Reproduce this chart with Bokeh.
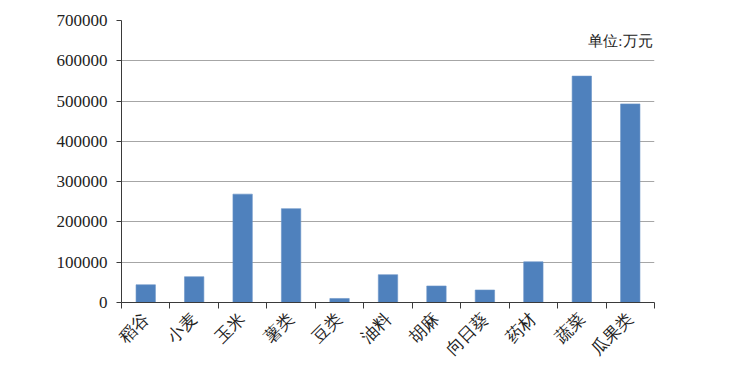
from math import pi
from bokeh.plotting import figure
from bokeh.models import ColumnDataSource, Range1d, FixedTicker, Label, BasicTickFormatter
from bokeh.embed import file_html
from bokeh.resources import INLINE

categories = ["稻谷", "小麦", "玉米", "薯类", "豆类", "油料", "胡麻", "向日葵", "药材", "蔬菜", "瓜果类"]
values = [44000, 64000, 269000, 233000, 10000, 69000, 41000, 31000, 101000, 562000, 493000]
y_ticks = [0, 100000, 200000, 300000, 400000, 500000, 600000, 700000]
unit_label = "单位:万元"

n = len(categories)
xs = [i + 0.5 for i in range(n)]
src = ColumnDataSource(dict(x=xs, top=values, cat=categories))

FONT = "Liberation Serif"

p = figure(width=747, height=372, output_backend="svg", toolbar_location=None,
           x_range=Range1d(0, n), y_range=Range1d(0, y_ticks[-1]),
           min_border_left=121, min_border_right=93, min_border_top=20, min_border_bottom=70)
p.outline_line_color = None
p.background_fill_color = "white"
p.border_fill_color = "white"

p.vbar(x="x", top="top", width=0.4, bottom=0, source=src,
       fill_color="#4F81BD", line_color="#6A93C8", line_width=0.6)

yax = p.yaxis[0]
yax.ticker = FixedTicker(ticks=y_ticks)
yax.formatter = BasicTickFormatter(use_scientific=False)
yax.axis_line_color = "#3a3a3a"
yax.major_tick_line_color = "#3a3a3a"
yax.major_tick_out = 5
yax.major_tick_in = 0
yax.minor_tick_line_color = None
yax.major_label_text_font = FONT
yax.major_label_text_font_size = "17px"
yax.major_label_text_font_style = "normal"
yax.major_label_text_color = "#222222"
yax.major_label_standoff = 9

xax = p.xaxis[0]
xax.ticker = FixedTicker(ticks=xs, minor_ticks=list(range(n + 1)))
xax.major_label_overrides = {x: c for x, c in zip(xs, categories)}
xax.major_tick_out = 0
xax.major_tick_in = 0
xax.minor_tick_out = 6
xax.minor_tick_in = 0
xax.minor_tick_line_color = "#3a3a3a"
xax.axis_line_color = "#3a3a3a"
xax.major_label_orientation = pi / 4
xax.major_label_text_font = FONT
xax.major_label_text_font_size = "17px"
xax.major_label_text_font_style = "normal"
xax.major_label_text_color = "#222222"
xax.major_label_standoff = 8

p.xgrid.grid_line_color = None
p.ygrid.ticker = FixedTicker(ticks=y_ticks)
p.ygrid.grid_line_color = "#A6A6A6"
p.ygrid.grid_line_width = 1.2

p.add_layout(Label(x=n, y=650000, text=unit_label, text_align="right", text_baseline="middle",
                   x_offset=-2, text_font=FONT, text_font_size="15px", text_color="#222222"))

open("out.html", "w").write(file_html(p, INLINE))
